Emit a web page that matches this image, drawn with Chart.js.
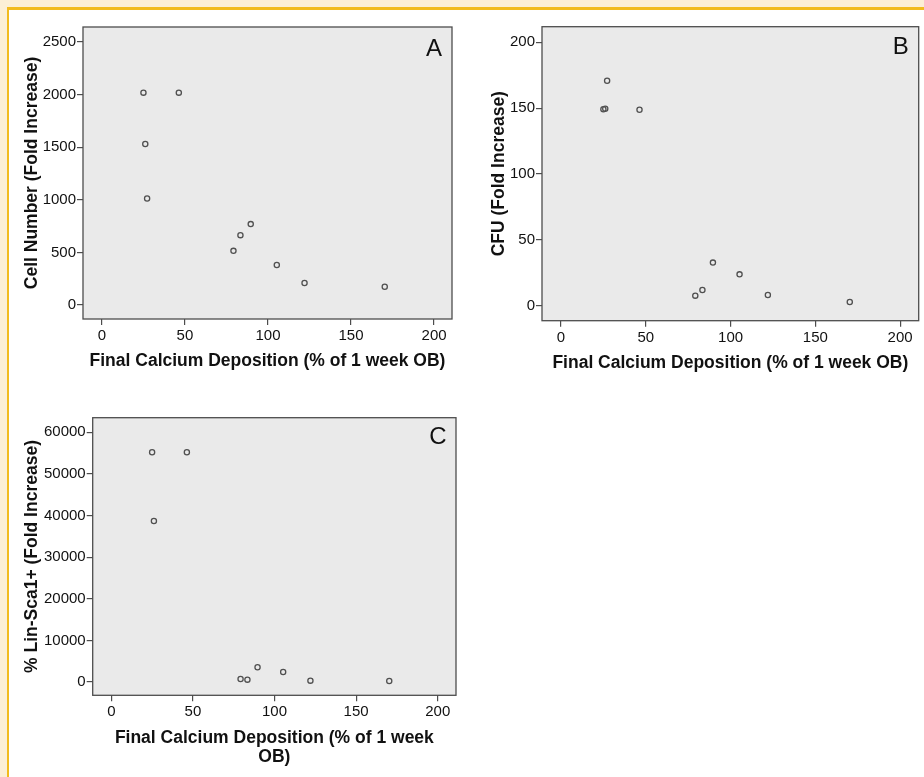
<!DOCTYPE html>
<html><head><meta charset="utf-8">
<script src="https://cdn.jsdelivr.net/npm/chart.js@4.4.0/dist/chart.umd.min.js"></script>
<style>
html,body{margin:0;padding:0;background:#fff;width:924px;height:777px;overflow:hidden;position:relative}
.f{position:absolute}
canvas{position:absolute;left:0;top:0}
</style></head><body>
<div class="f" style="left:0;top:0;width:924px;height:7px;background:#fcefd5"></div>
<div class="f" style="left:0;top:0;width:7px;height:777px;background:#fcefd5"></div>
<div class="f" style="left:7px;top:7px;width:917px;height:3px;background:#f2bb1d"></div>
<div class="f" style="left:7px;top:7px;width:2px;height:770px;background:#f2bb1d"></div>
<canvas id="cA" width="924" height="777"></canvas>
<canvas id="cB" width="924" height="777"></canvas>
<canvas id="cC" width="924" height="777"></canvas>
<script>
// ---- data ----
const calciumDeposition = [25.0, 46.3, 26.1, 27.2, 89.6, 83.4, 79.2, 105.3, 122.0, 170.3];
const cellNumber = [2019, 2019, 1530, 1012, 769, 664, 515, 380, 209, 174];
const cfu = [149.1, 148.8, 149.6, 170.8, 32.7, 11.9, 7.6, 23.8, 8.1, 2.8];
const linSca = [55216, 55216, 38700, null, 3530, 560, 720, 2400, 320, 240];
const xTicks = [0, 50, 100, 150, 200];
const cellTicks = [0, 500, 1000, 1500, 2000, 2500];
const cfuTicks = [0, 50, 100, 150, 200];
const linTicks = [0, 10000, 20000, 30000, 40000, 50000, 60000];
const xTitle = 'Final Calcium Deposition (% of 1 week OB)';
const xTitleWrapped = ['Final Calcium Deposition (% of 1 week', 'OB)'];
const panelLetters = ['A', 'B', 'C'];

const FONT = "'Liberation Sans', Arial, Helvetica, sans-serif";
Chart.defaults.font.family = FONT;
const TITLE_SIZE = 17.5, TITLE_LH = 1.05;
const LH = TITLE_SIZE * TITLE_LH;

const framePlugin = {
  id: 'frame',
  beforeDraw(chart, args, o) {
    const {ctx, chartArea: a} = chart;
    ctx.save();
    ctx.fillStyle = '#eaeaea';
    ctx.fillRect(a.left, a.top, a.right - a.left, a.bottom - a.top);
    ctx.restore();
  },
  afterDraw(chart, args, o) {
    const {ctx, chartArea: a} = chart;
    ctx.save();
    ctx.strokeStyle = '#4d4d4d';
    ctx.lineWidth = 1.3;
    ctx.strokeRect(a.left, a.top, a.right - a.left, a.bottom - a.top);
    ctx.font = '24px ' + FONT;
    ctx.fillStyle = '#111';
    ctx.textAlign = 'right';
    ctx.textBaseline = 'alphabetic';
    ctx.fillText(o.letter, a.right - o.dx, a.top + o.dy);
    ctx.restore();
  }
};

function makeChart(id, yVals, yTicks, yTitle, xTitleText, letter, g) {
  const nLines = Array.isArray(xTitleText) ? xTitleText.length : 1;
  const pl = g.ycx - LH / 2;
  const yW = g.L - pl;
  const H = g.xcy - g.B + LH / 2 + LH * (nLines - 1);
  const pts = calciumDeposition.map((x, i) => ({x: x, y: yVals[i]})).filter(p => p.y !== null);
  return new Chart(document.getElementById(id), {
    type: 'scatter',
    data: {datasets: [{
      data: pts,
      pointStyle: 'circle',
      pointRadius: 2.6,
      pointBorderWidth: 1.3,
      pointBorderColor: '#505050',
      pointBackgroundColor: 'rgba(0,0,0,0)'
    }]},
    options: {
      responsive: false,
      animation: false,
      events: [],
      layout: {padding: {left: pl, top: g.T, right: 924 - g.R, bottom: 777 - g.B - H}},
      plugins: {legend: {display: false}, tooltip: {enabled: false},
        frame: {letter: letter, dx: g.ldx, dy: g.ldy}},
      scales: {
        x: {
          type: 'linear', min: g.xmin, max: g.xmax,
          border: {display: false},
          grid: {drawOnChartArea: false, drawTicks: true, tickLength: 6, color: '#4d4d4d', lineWidth: 1.2},
          ticks: {padding: 2, font: {size: 15}, color: '#111', maxRotation: 0, autoSkip: false, callback: v => String(v)},
          afterBuildTicks: s => { s.ticks = xTicks.map(v => ({value: v})); },
          afterFit: s => { s.height = H; },
          title: {display: true, text: xTitleText, color: '#111',
            font: {size: TITLE_SIZE, weight: 'bold', lineHeight: TITLE_LH}, padding: {top: 0, bottom: 0}}
        },
        y: {
          type: 'linear', min: g.ymin, max: g.ymax,
          border: {display: false},
          grid: {drawOnChartArea: false, drawTicks: true, tickLength: 6, color: '#4d4d4d', lineWidth: 1.2},
          ticks: {padding: 1, font: {size: 15}, color: '#111', autoSkip: false, callback: v => String(v)},
          afterBuildTicks: s => { s.ticks = yTicks.map(v => ({value: v})); },
          afterFit: s => { s.width = yW; },
          title: {display: true, text: yTitle, color: '#111',
            font: {size: TITLE_SIZE, weight: 'bold', lineHeight: TITLE_LH}, padding: {top: 0, bottom: 0}}
        }
      }
    },
    plugins: [framePlugin]
  });
}

makeChart('cA', cellNumber, cellTicks, 'Cell Number (Fold Increase)', xTitle, panelLetters[0],
  {L: 83, T: 27, R: 452, B: 319, ycx: 32.3, xcy: 361.5, xmin: -11.4, xmax: 210.8, ymin: -133, ymax: 2643, ldx: 10, ldy: 29});
makeChart('cB', cfu, cfuTicks, 'CFU (Fold Increase)', xTitle, panelLetters[1],
  {L: 542, T: 26.7, R: 919.3, B: 320.7, ycx: 498.7, xcy: 363.3, xmin: -11.2, xmax: 210.95, ymin: -11.4, ymax: 211.8, ldx: 10, ldy: 27});
makeChart('cC', linSca, linTicks, '% Lin-Sca1+ (Fold Increase)', xTitleWrapped, panelLetters[2],
  {L: 92.7, T: 417.7, R: 456, B: 695.3, ycx: 32.3, xcy: 738.3, xmin: -11.4, xmax: 211.2, ymin: -3200, ymax: 63510, ldx: 9.5, ldy: 26.5});
</script>
</body></html>
